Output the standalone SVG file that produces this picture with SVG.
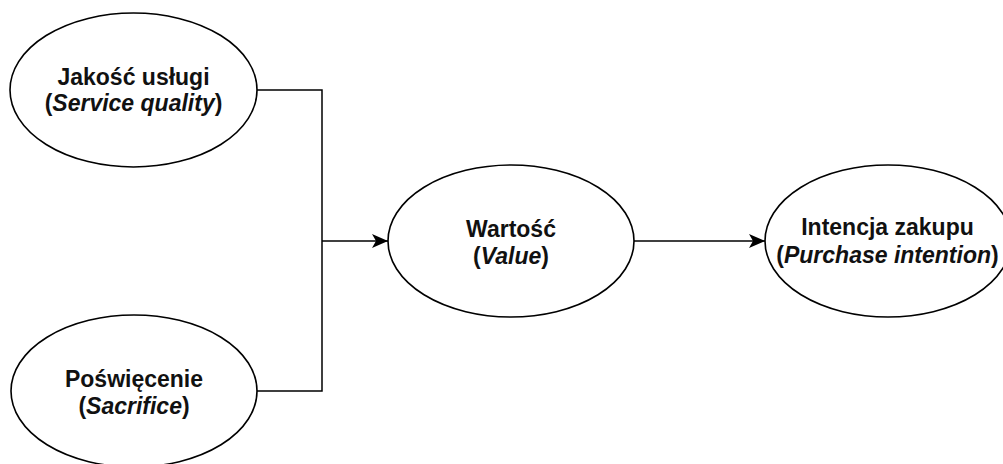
<svg xmlns="http://www.w3.org/2000/svg" width="1003" height="464" viewBox="0 0 1003 464">
<defs>
<style>
.node ellipse{fill:#ffffff;stroke:#000000;stroke-width:1.6}
.node text{font-family:"Liberation Sans",Arial,sans-serif;font-size:23px;font-weight:bold;fill:#111111;text-anchor:middle}
.node tspan.it{font-style:italic}
.conn{fill:none;stroke:#000000;stroke-width:1.5}
</style>
<marker id="arr" markerUnits="userSpaceOnUse" markerWidth="18" markerHeight="14" refX="16" refY="7" orient="auto">
<path d="M0,0 L16,7 L0,14 L4,7 Z" fill="#000000"/>
</marker>
</defs>
<rect width="1003" height="464" fill="#ffffff"/>
<g id="connectors">
<polyline class="conn" points="257,90 322,90 322,391 257,391"/>
<line class="conn" x1="322" y1="241" x2="388" y2="241" marker-end="url(#arr)"/>
<line class="conn" x1="634" y1="241" x2="765" y2="241" marker-end="url(#arr)"/>
</g>
<g id="node-service-quality" class="node">
<ellipse cx="133.5" cy="90" rx="123.5" ry="77"/>
<text x="133.5" y="85">Jakość usługi</text>
<text x="133.5" y="111">(<tspan class="it">Service quality</tspan>)</text>
</g>
<g id="node-sacrifice" class="node">
<ellipse cx="134" cy="391" rx="123" ry="76"/>
<text x="134" y="387">Poświęcenie</text>
<text x="134" y="414">(<tspan class="it">Sacrifice</tspan>)</text>
</g>
<g id="node-value" class="node">
<ellipse cx="511" cy="241" rx="123" ry="76"/>
<text x="511" y="237">Wartość</text>
<text x="511" y="264">(<tspan class="it">Value</tspan>)</text>
</g>
<g id="node-purchase-intention" class="node">
<ellipse cx="888" cy="241" rx="123" ry="76"/>
<text x="887.5" y="235">Intencja zakupu</text>
<text x="887.5" y="263">(<tspan class="it">Purchase intention</tspan>)</text>
</g>
</svg>
